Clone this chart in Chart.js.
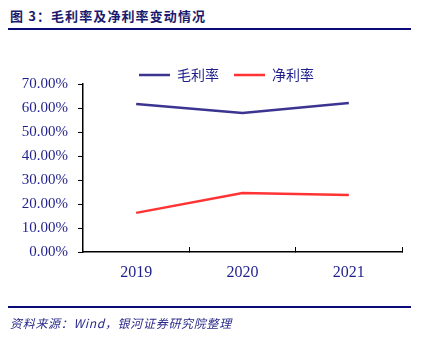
<!DOCTYPE html>
<html>
<head>
<meta charset="utf-8">
<script src="https://cdn.jsdelivr.net/npm/chart.js@4/dist/chart.umd.min.js"></script>
<style>
  body { margin: 0; background: #fff; }
  #wrap { position: relative; width: 422px; height: 346px; overflow: hidden; }
  #title { position: absolute; left: 10px; top: 6px; font: bold 13px "Noto Sans CJK SC", sans-serif; color: #1a1a6e; letter-spacing: 1.1px; }
  .rule { position: absolute; left: 8px; width: 403px; height: 2px; background: #0b0b78; }
  #source { position: absolute; left: 10px; top: 314px; font: italic 12px "Noto Sans CJK SC", sans-serif; color: #2a2a8a; letter-spacing: 0.7px; }
  canvas { position: absolute; left: 0; top: 0; }
</style>
</head>
<body>
<div id="wrap">
  <div id="title">图 3：毛利率及净利率变动情况</div>
  <div class="rule" style="top:28px"></div>
  <canvas id="chart" width="422" height="346"></canvas>
  <div class="rule" style="top:306px"></div>
  <div id="source">资料来源：Wind，银河证券研究院整理</div>
</div>
<script>
var YEARS = ['2019', '2020', '2021'];
var GROSS_MARGIN = [61.7, 57.9, 62.1];
var NET_MARGIN = [16.3, 24.6, 23.8];

var NAVY = '#1f1f8c';

// nudge the legend down/right so it sits just above the plot like the original
var legendShift = {
    id: 'legendShift',
    afterLayout: function(chart) {
        chart.legend.top += 8;
        chart.legend.bottom += 8;
        chart.legend.left = 124;
    }
};

var chart = new Chart(document.getElementById('chart'), {
    type: 'line',
    data: {
        labels: YEARS,
        datasets: [{
            label: '毛利率',
            data: GROSS_MARGIN,
            borderColor: '#3b3490',
            backgroundColor: '#3b3490',
            borderWidth: 2.5,
            pointRadius: 0,
            tension: 0
        }, {
            label: '净利率',
            data: NET_MARGIN,
            borderColor: '#ff3333',
            backgroundColor: '#ff3333',
            borderWidth: 2.5,
            pointRadius: 0,
            tension: 0
        }]
    },
    options: {
        responsive: false,
        animation: false,
        layout: { padding: { top: 45, left: 0, right: 20, bottom: 0 } },
        plugins: {
            tooltip: { enabled: false },
            legend: {
                position: 'top',
                align: 'start',
                labels: {
                    boxWidth: 31,
                    boxHeight: 0,
                    padding: 15,
                    color: NAVY,
                    font: { family: '"Noto Sans CJK SC", sans-serif', size: 14 }
                }
            }
        },
        scales: {
            x: {
                offset: true,
                grid: {
                    offset: true,
                    drawOnChartArea: false,
                    drawTicks: true,
                    tickLength: -5,
                    color: '#000',
                    lineWidth: 1
                },
                border: { display: true, color: '#000', width: 1.5 },
                ticks: {
                    color: NAVY,
                    padding: 16,
                    font: { family: '"Liberation Serif", serif', size: 16 }
                },
                afterFit: function(scale) { scale.height = 94; }
            },
            y: {
                min: 0,
                max: 70,
                grid: {
                    drawOnChartArea: false,
                    drawTicks: true,
                    tickLength: 5,
                    color: '#000',
                    lineWidth: 1
                },
                border: { display: true, color: '#000', width: 1.5 },
                ticks: {
                    stepSize: 10,
                    color: NAVY,
                    padding: 10,
                    font: { family: '"Liberation Serif", serif', size: 15 },
                    callback: function(v) { return v.toFixed(2) + '%'; }
                },
                afterFit: function(scale) { scale.width = 83; }
            }
        }
    },
    plugins: [legendShift]
});
</script>
</body>
</html>
